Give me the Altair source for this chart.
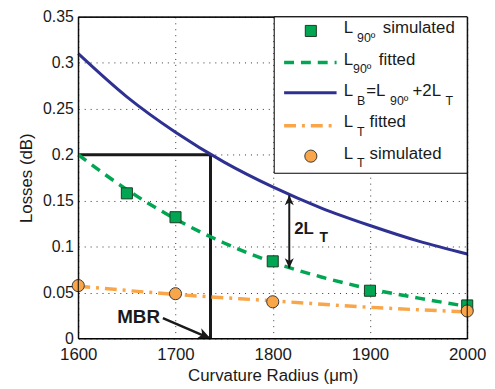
import altair as alt
import pandas as pd

# ---- data ----
radius_sq = [1650, 1700, 1800, 1900, 2000]
l90_sim = [0.158, 0.132, 0.084, 0.052, 0.036]

radius_circ = [1600, 1700, 1800, 2000]
lt_sim = [0.0576, 0.0488, 0.040, 0.030]

radius_fit = [1600, 1650, 1700, 1750, 1800, 1850, 1900, 1950, 2000]
l90_fit = [0.200, 0.162, 0.130, 0.104, 0.083, 0.067, 0.054, 0.044, 0.035]
lb_fit = [0.310, 0.263, 0.2245, 0.192, 0.165, 0.142, 0.123, 0.106, 0.092]

radius_lt = [1600, 1700, 1800, 1900, 2000]
lt_fit = [0.057, 0.048, 0.041, 0.034, 0.029]

mbr_radius = 1736
mbr_loss = 0.2
mbr_arrow_tail = (1687, 0.0223)
arrow_2lt_radius = 1817
arrow_2lt_top = 0.156
arrow_2lt_bottom = 0.0764

x_ticks = [1600, 1700, 1800, 1900, 2000]
y_ticks = [0, 0.05, 0.1, 0.15, 0.2, 0.25, 0.3, 0.35]

FONT = "Liberation Sans"
GREEN = "#00a651"
BLUE = "#2e3192"
ORANGE = "#f9a64a"
INK = "#1a1a1a"
HEAD = "M0,0L-0.8,1.8L0,1.3L0.8,1.8Z"

W, H = 393, 325

X = alt.X("r:Q", scale=alt.Scale(domain=[1600, 2000], nice=False, zero=False),
          axis=alt.Axis(values=x_ticks, title="Curvature Radius (μm)", format="d"))
Y = alt.Y("v:Q", scale=alt.Scale(domain=[0, 0.35], nice=False),
          axis=alt.Axis(values=y_ticks, title="Losses (dB)", format="~g"))

df_sq = pd.DataFrame({"r": radius_sq, "v": l90_sim})
df_circ = pd.DataFrame({"r": radius_circ, "v": lt_sim})
df_g = pd.DataFrame({"r": radius_fit, "v": l90_fit})
df_b = pd.DataFrame({"r": radius_fit, "v": lb_fit})
df_o = pd.DataFrame({"r": radius_lt, "v": lt_fit})

green_line = alt.Chart(df_g).mark_line(color=GREEN, strokeWidth=3.5, strokeDash=[10, 7],
                                       interpolate="monotone").encode(x=X, y=Y)
blue_line = alt.Chart(df_b).mark_line(color=BLUE, strokeWidth=3,
                                      interpolate="monotone").encode(x=X, y=Y)
orange_line = alt.Chart(df_o).mark_line(color=ORANGE, strokeWidth=3.5, strokeDash=[12, 6, 3, 6],
                                        interpolate="monotone").encode(x=X, y=Y)

squares = alt.Chart(df_sq).mark_point(shape="square", filled=True, fill=GREEN, stroke="#1d3b22",
                                      strokeWidth=1, size=125, opacity=1).encode(x=X, y=Y)
circles = alt.Chart(df_circ).mark_point(shape="circle", filled=True, fill=ORANGE, stroke="#3a3a3a",
                                        strokeWidth=1, size=150, opacity=1).encode(x=X, y=Y)

# MBR box lines
df_h = pd.DataFrame({"r": [1600], "r2": [mbr_radius], "v": [mbr_loss]})
hline = alt.Chart(df_h).mark_rule(color=INK, strokeWidth=3).encode(x=X, x2="r2:Q", y=Y)
df_v = pd.DataFrame({"r": [mbr_radius], "v": [0], "v2": [mbr_loss]})
vline = alt.Chart(df_v).mark_rule(color=INK, strokeWidth=3).encode(x=X, y=Y, y2="v2:Q")

# MBR arrow
df_ma = pd.DataFrame({"r": [mbr_arrow_tail[0]], "v": [mbr_arrow_tail[1]],
                      "r2": [mbr_radius], "v2": [0.0]})
mbr_stem = alt.Chart(df_ma).mark_rule(color=INK, strokeWidth=2.5).encode(
    x=X, y=Y, x2="r2:Q", y2="v2:Q")
df_mh = pd.DataFrame({"r": [mbr_radius], "v": [0.0]})
mbr_head = alt.Chart(df_mh).mark_point(shape=HEAD, filled=True, color=INK, size=200,
                                       angle=114, opacity=1, strokeWidth=0).encode(x=X, y=Y)
df_mt = pd.DataFrame({"r": [1640], "v": [0.0235], "t": ["MBR"]})
mbr_text = alt.Chart(df_mt).mark_text(font=FONT, fontSize=19, fontWeight="bold", align="left",
                                      baseline="middle", color=INK).encode(x=X, y=Y, text="t:N")

# 2L_T arrow
df_da = pd.DataFrame({"r": [arrow_2lt_radius], "v": [arrow_2lt_bottom], "v2": [arrow_2lt_top]})
d_stem = alt.Chart(df_da).mark_rule(color=INK, strokeWidth=2).encode(x=X, y=Y, y2="v2:Q")
d_head_top = alt.Chart(pd.DataFrame({"r": [arrow_2lt_radius], "v": [arrow_2lt_top]})).mark_point(
    shape=HEAD, filled=True, color=INK, size=130, angle=0, opacity=1, strokeWidth=0).encode(x=X, y=Y)
d_head_bot = alt.Chart(pd.DataFrame({"r": [arrow_2lt_radius], "v": [arrow_2lt_bottom]})).mark_point(
    shape=HEAD, filled=True, color=INK, size=130, angle=180, opacity=1, strokeWidth=0).encode(x=X, y=Y)
t2l = alt.Chart(pd.DataFrame({"r": [1822], "v": [0.119], "t": ["2L"]})).mark_text(
    font=FONT, fontSize=17, fontWeight="bold", align="left", baseline="middle", color=INK
).encode(x=X, y=Y, text="t:N")
t2t = alt.Chart(pd.DataFrame({"r": [1848], "v": [0.109], "t": ["T"]})).mark_text(
    font=FONT, fontSize=14, fontWeight="bold", align="left", baseline="middle", color=INK
).encode(x=X, y=Y, text="t:N")

# ---- plot frame and custom legend (pixel layout inside plot area) ----
PX = alt.X("px:Q", scale=None, axis=None)
PY = alt.Y("py:Q", scale=None, axis=None)

frame = alt.Chart(pd.DataFrame({"px": [0], "px2": [W], "py": [0], "py2": [H]})).mark_rect(
    filled=False, stroke="black", strokeWidth=1).encode(x=PX, x2="px2:Q", y=PY, y2="py2:Q")

leg_box = alt.Chart(pd.DataFrame({"px": [198], "px2": [W], "py": [0], "py2": [158]})).mark_rect(
    fill="white", stroke="black", strokeWidth=1).encode(
    x=PX, x2="px2:Q", y=PY, y2="py2:Q")

dy = -5  # legend rows relative to original layout
leg_sq = alt.Chart(pd.DataFrame({"px": [235], "py": [19.2 + dy]})).mark_point(
    shape="square", filled=True, fill=GREEN, stroke="#1d3b22", strokeWidth=1, size=125, opacity=1
).encode(x=PX, y=PY)
leg_circ = alt.Chart(pd.DataFrame({"px": [235], "py": [145.7 + dy]})).mark_point(
    shape="circle", filled=True, fill=ORANGE, stroke="#3a3a3a", strokeWidth=1, size=150, opacity=1
).encode(x=PX, y=PY)
leg_g = alt.Chart(pd.DataFrame({"px": [208], "px2": [261], "py": [51 + dy]})).mark_rule(
    color=GREEN, strokeWidth=3.5, strokeDash=[10, 7]).encode(x=PX, x2="px2:Q", y=PY)
leg_b = alt.Chart(pd.DataFrame({"px": [208], "px2": [261], "py": [81.7 + dy]})).mark_rule(
    color=BLUE, strokeWidth=3).encode(x=PX, x2="px2:Q", y=PY)
leg_o = alt.Chart(pd.DataFrame({"px": [208], "px2": [261], "py": [115 + dy]})).mark_rule(
    color=ORANGE, strokeWidth=3.5, strokeDash=[12, 6, 3, 6]).encode(x=PX, x2="px2:Q", y=PY)

main_txt = pd.DataFrame({
    "px": [268.3, 307.7, 268.3, 303.7, 268.3, 291, 337.7, 268.3, 294.3, 268.3, 294.3],
    "py": [v + dy for v in [21.7, 21.7, 53.3, 53.3, 85, 85, 85, 116.7, 116.7, 148.3, 148.3]],
    "t": ["L", "simulated", "L", "fitted", "L", "=L", "+2L", "L", "fitted", "L", "simulated"],
})
sub_txt = pd.DataFrame({
    "px": [281.7, 277.7, 281.7, 315, 371, 281.7, 281.7],
    "py": [v + dy for v in [30, 61.7, 94, 94, 94, 125, 156.7]],
    "t": ["90º", "90º", "B", "90º", "T", "T", "T"],
})
leg_main = alt.Chart(main_txt).mark_text(font=FONT, fontSize=17, align="left", baseline="alphabetic",
                                         color=INK).encode(x=PX, y=PY, text="t:N")
leg_sub = alt.Chart(sub_txt).mark_text(font=FONT, fontSize=12.5, align="left", baseline="alphabetic",
                                       color=INK).encode(x=PX, y=PY, text="t:N")

chart = alt.layer(
    hline, vline, green_line, blue_line, orange_line,
    mbr_stem, mbr_head, mbr_text, d_stem, d_head_top, d_head_bot, t2l, t2t,
    squares, circles, frame,
    leg_box, leg_sq, leg_circ, leg_g, leg_b, leg_o, leg_main, leg_sub,
).properties(
    width=W, height=H,
    autosize=alt.AutoSizeParams(type="none"),
    padding={"left": 71, "top": 7, "right": 20, "bottom": 48},
    background="white",
).configure_view(
    stroke="black", strokeWidth=1, fill="white"
).configure_axis(
    labelFont=FONT, titleFont=FONT, labelFontSize=17, titleFontSize=17,
    labelColor=INK, titleColor=INK, titleFontWeight="normal",
    grid=True, gridColor="black", gridDash=[1, 5], gridWidth=1, gridOpacity=0.8,
    domain=False, ticks=False, labelFlush=False, labelOverlap=False,
).configure_axisX(
    labelPadding=8, titlePadding=5,
).configure_axisY(
    labelPadding=5, titlePadding=7, labelFontSize=16,
)

chart.save("out.html", embed_options={"renderer": "svg", "actions": False})
